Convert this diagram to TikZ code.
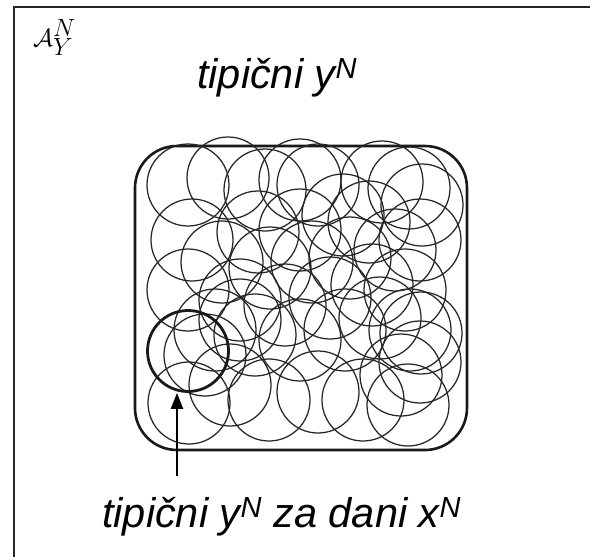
\documentclass[tikz,border=0pt]{standalone}
\usepackage{fontspec}
\setmainfont{Liberation Sans}
\usetikzlibrary{arrows.meta}
\tikzset{
  frameline/.style={line width=1.6pt, black!85},
  setbox/.style={line width=2.6pt, rounded corners=42pt, black!90},
  thin/.style={line width=1.25pt, black!85},
  thick/.style={draw, circle, line width=2.8pt, minimum size=81pt, inner sep=0pt, black!90},
  lab/.style={anchor=base west, inner sep=0pt, font=\fontsize{41.5}{48}\selectfont\itshape},
  arr/.style={line width=2.4pt, -{Triangle[length=16pt,width=12pt]}}
}
\begin{document}
\begin{tikzpicture}[x=1pt,y=-1pt]
\useasboundingbox (0,0) rectangle (590,557);
\fill[white] (0,0) rectangle (590,557);
% frame (top and left edges)
\coordinate (fa) at (14,7);
\coordinate (fb) at (590,7);
\coordinate (fc) at (14,557);
\draw[frameline] (fc) -- (fa) -- (fb);
\node[anchor=base west, inner sep=0pt, font=\fontsize{36}{42}\selectfont] (aset) at (33,46) {$\mathcal{A}_Y^N$};
% set of typical y^N
\draw[setbox] (135,146) rectangle (467,450);
\foreach \x/\y in {188/185, 228/178, 265/190, 318/185, 343/215, 382/182, 409/188, 422/205,
  369/222, 300/230, 258/232, 192/240, 222/262, 270/268, 312/262, 350/258, 395/250, 420/240,
  188/290, 240/300, 285/305, 330/298, 372/285, 405/290, 421/333, 215/330, 255/335, 300/340,
  345/330, 380/318, 410/330, 205/355, 189/403, 230/385, 269/400, 363/400, 318/392, 401/375,
  420/362, 408/405, 240/320, 300/180}
  \draw[thin] (\x,\y) circle (41);
\node[thick] (tx) at (188,351) {};
\coordinate (tail) at (177,476);
\draw[arr] (tail) -- (tail |- tx.south);
\node[lab] (top) at (197,88) {tipični y\textsuperscript{N}};
\node[lab] (bot) at (102,527) {tipični y\textsuperscript{N} za dani x\textsuperscript{N}};
\end{tikzpicture}
\end{document}
